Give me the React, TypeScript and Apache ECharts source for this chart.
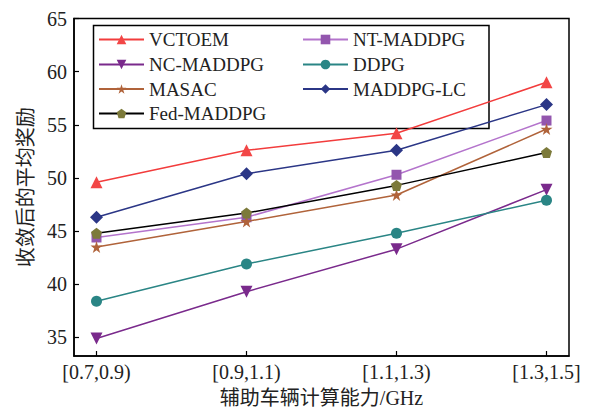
import React, { useEffect, useRef } from "react";
import * as echarts from "echarts";

// Computing-capacity ranges of the assisting vehicles (GHz)
const CATEGORIES = ["[0.7,0.9)", "[0.9,1.1)", "[1.1,1.3)", "[1.3,1.5]"];
const Y_TICKS = [35, 40, 45, 50, 55, 60, 65];

// Average reward after convergence for each method
const VCTOEM = [49.6, 52.6, 54.2, 59.0];
const NT_MADDPG = [44.4, 46.3, 50.3, 55.4];
const NC_MADDPG = [34.9, 39.3, 43.3, 48.9];
const DDPG = [38.4, 41.9, 44.8, 47.9];
const MASAC = [43.5, 45.9, 48.4, 54.6];
const MADDPG_LC = [46.3, 50.4, 52.6, 56.9];
const FED_MADDPG = [44.8, 46.7, 49.3, 52.4];

const FONT = "'Liberation Serif', 'Times New Roman', 'Noto Sans CJK SC', serif";

const TRI_DOWN = "path://M0,0L10,0L5,9Z";
const STAR =
  "path://M50,0L61.2,34.5L97.6,34.5L68.2,55.9L79.4,90.5L50,69.1L20.6,90.5L31.8,55.9L2.4,34.5L38.8,34.5Z";
const PENTAGON = "path://M50,0L97.6,34.5L79.4,90.5L20.6,90.5L2.4,34.5Z";

interface SeriesDef {
  name: string;
  data: number[];
  line: string;
  marker: string;
  symbol: string;
  size: number;
}

const SERIES: SeriesDef[] = [
  { name: "VCTOEM", data: VCTOEM, line: "#f23c3c", marker: "#f24646", symbol: "triangle", size: 12 },
  { name: "NT-MADDPG", data: NT_MADDPG, line: "#b474cc", marker: "#9356ae", symbol: "rect", size: 10 },
  { name: "NC-MADDPG", data: NC_MADDPG, line: "#7a2a8c", marker: "#7a2a8c", symbol: TRI_DOWN, size: 12 },
  { name: "DDPG", data: DDPG, line: "#2a8585", marker: "#2a8585", symbol: "circle", size: 11 },
  { name: "MASAC", data: MASAC, line: "#b0633a", marker: "#b0633a", symbol: STAR, size: 12 },
  { name: "MADDPG-LC", data: MADDPG_LC, line: "#2b3686", marker: "#2b3686", symbol: "diamond", size: 13 },
  { name: "Fed-MADDPG", data: FED_MADDPG, line: "#000000", marker: "#7c7a3a", symbol: PENTAGON, size: 11 },
];

// legend slots: [name, left, top]
const LEGEND_SLOTS: [string, number, number][] = [
  ["VCTOEM", 98, 29.5],
  ["NT-MADDPG", 302, 29.5],
  ["NC-MADDPG", 98, 54.5],
  ["DDPG", 302, 54.5],
  ["MASAC", 98, 79],
  ["MADDPG-LC", 302, 79],
  ["Fed-MADDPG", 98, 103.5],
];

export default function App() {
  const ref = useRef<HTMLDivElement>(null);

  useEffect(() => {
    document.body.style.margin = "0";
    document.body.style.overflow = "hidden";
    if (!ref.current) return;
    const chart = echarts.init(ref.current, undefined, { renderer: "svg" });

    const textStyle = { fontFamily: FONT, fontSize: 19, color: "#222" };

    chart.setOption({
      animation: false,
      backgroundColor: "#fff",
      grid: {
        left: 74,
        right: 24,
        top: 18.5,
        bottom: 51.5,
        show: true,
        borderColor: "#000",
        borderWidth: 1.5,
        backgroundColor: "transparent",
      },
      legend: LEGEND_SLOTS.map(([name, left, top]) => ({
        data: [name],
        left,
        top,
        orient: "horizontal",
        itemWidth: 45,
        itemHeight: 12,
        padding: 0,
        selectedMode: false,
        textStyle: { ...textStyle, lineHeight: 20 },
      })),
      graphic: [
        {
          type: "rect",
          shape: { x: 93.5, y: 25.5, width: 395.5, height: 103 },
          style: { fill: "rgba(0,0,0,0)", stroke: "#000", lineWidth: 1.5 },
          silent: true,
        },
      ],
      xAxis: {
        type: "value",
        min: -0.15,
        max: 3.15,
        name: "辅助车辆计算能力/GHz",
        nameLocation: "middle",
        nameGap: 32,
        nameTextStyle: { ...textStyle, fontSize: 20 },
        axisLine: { onZero: false, lineStyle: { color: "#000", width: 1.5 } },
        axisTick: {
          inside: true,
          length: 5,
          customValues: [0, 1, 2, 3],
          lineStyle: { color: "#000", width: 1.2 },
        },
        axisLabel: {
          ...textStyle,
          fontSize: 20,
          margin: 6,
          customValues: [0, 1, 2, 3],
          formatter: (v: number) => CATEGORIES[Math.round(v)] ?? "",
        },
        splitLine: { show: false },
      },
      yAxis: {
        type: "value",
        min: 33.25,
        max: 65,
        name: "收敛后的平均奖励",
        nameLocation: "middle",
        nameGap: 37,
        nameTextStyle: { ...textStyle, fontSize: 20 },
        axisLine: { show: true, onZero: false, lineStyle: { color: "#000", width: 1.5 } },
        axisTick: {
          show: true,
          inside: true,
          length: 5,
          customValues: Y_TICKS,
          lineStyle: { color: "#000", width: 1.2 },
        },
        axisLabel: {
          ...textStyle,
          fontSize: 20,
          margin: 7,
          customValues: Y_TICKS,
        },
        splitLine: { show: false },
      },
      series: SERIES.map((s) => ({
        name: s.name,
        type: "line",
        data: s.data.map((v, i) => [i, v]),
        symbol: s.symbol,
        symbolSize: s.size,
        showAllSymbol: true,
        lineStyle: { color: s.line, width: 1.5 },
        itemStyle: { color: s.marker, borderWidth: 0 },
        emphasis: { disabled: true },
      })),
    });

    return () => chart.dispose();
  }, []);

  return (
    <div
      ref={ref}
      style={{ position: "fixed", left: 0, top: 0, width: 593, height: 413 }}
    />
  );
}
